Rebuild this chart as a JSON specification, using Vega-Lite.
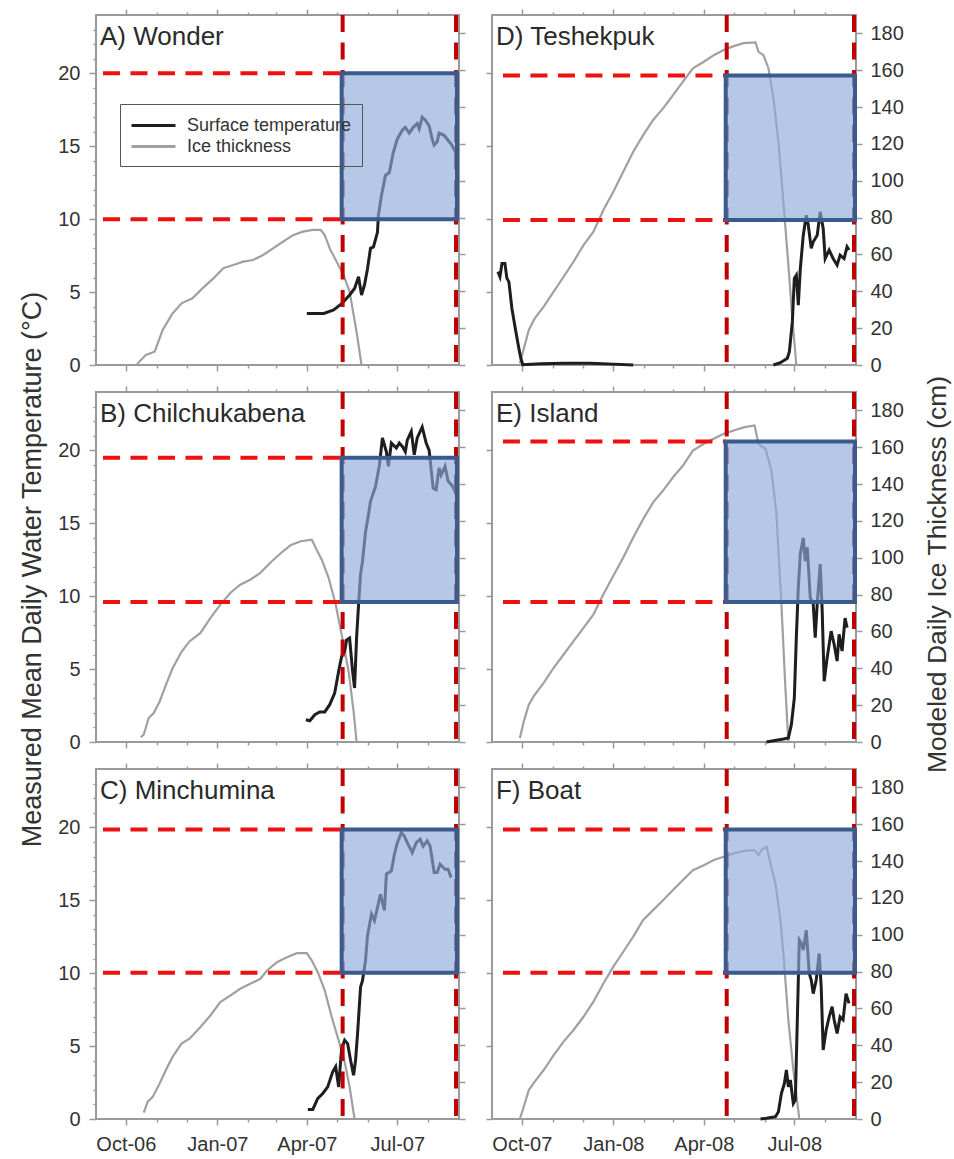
{
 "$schema": "https://vega.github.io/schema/vega-lite/v6.json",
 "padding": {"left": 16, "top": 7, "right": 2, "bottom": 2},
 "background": "white",
 "columns": 2,
 "spacing": {"row": 27, "column": 33},
 "bounds": "flush",
 "resolve": {"scale": {"color": "independent"}, "legend": {"color": "independent"}},
 "datasets": {
  "A_ice": [{"date":"2006-10-12","ice":0},{"date":"2006-10-13","ice":0.9},{"date":"2006-10-21","ice":5.4},{"date":"2006-10-30","ice":7.2},{"date":"2006-11-07","ice":19},{"date":"2006-11-17","ice":28},{"date":"2006-11-26","ice":33.5},{"date":"2006-12-07","ice":36.2},{"date":"2006-12-17","ice":41.6},{"date":"2006-12-28","ice":47},{"date":"2007-01-07","ice":52.5},{"date":"2007-01-17","ice":54.3},{"date":"2007-01-27","ice":56.1},{"date":"2007-02-06","ice":57},{"date":"2007-02-16","ice":59.7},{"date":"2007-02-26","ice":63.3},{"date":"2007-03-08","ice":66.9},{"date":"2007-03-18","ice":70.5},{"date":"2007-03-28","ice":72.4},{"date":"2007-04-07","ice":73.3},{"date":"2007-04-15","ice":73.3},{"date":"2007-04-19","ice":70.5},{"date":"2007-04-24","ice":63.3},{"date":"2007-05-01","ice":56.1},{"date":"2007-05-08","ice":48.8},{"date":"2007-05-14","ice":39.8},{"date":"2007-05-21","ice":18},{"date":"2007-05-26","ice":0}],
  "A_temp": [{"date":"2007-04-01","temp":3.54},{"date":"2007-04-18","temp":3.54},{"date":"2007-04-28","temp":3.77},{"date":"2007-05-06","temp":4.2},{"date":"2007-05-14","temp":4.8},{"date":"2007-05-19","temp":5.25},{"date":"2007-05-23","temp":6.05},{"date":"2007-05-26","temp":4.8},{"date":"2007-05-29","temp":5.5},{"date":"2007-06-01","temp":6.6},{"date":"2007-06-04","temp":8.0},{"date":"2007-06-07","temp":8.1},{"date":"2007-06-11","temp":9.1},{"date":"2007-06-12","temp":10.3},{"date":"2007-06-15","temp":11.6},{"date":"2007-06-19","temp":13.0},{"date":"2007-06-23","temp":13.2},{"date":"2007-06-27","temp":14.6},{"date":"2007-07-01","temp":15.5},{"date":"2007-07-06","temp":16.1},{"date":"2007-07-09","temp":16.3},{"date":"2007-07-13","temp":15.9},{"date":"2007-07-17","temp":16.3},{"date":"2007-07-21","temp":16.55},{"date":"2007-07-23","temp":16.2},{"date":"2007-07-26","temp":17.0},{"date":"2007-07-29","temp":16.8},{"date":"2007-08-02","temp":16.4},{"date":"2007-08-05","temp":15.5},{"date":"2007-08-07","temp":15.07},{"date":"2007-08-10","temp":15.3},{"date":"2007-08-12","temp":15.9},{"date":"2007-08-17","temp":15.75},{"date":"2007-08-20","temp":15.5},{"date":"2007-08-25","temp":15.07},{"date":"2007-08-30","temp":14.4}],
  "B_ice": [{"date":"2006-10-16","ice":2.7},{"date":"2006-10-19","ice":4},{"date":"2006-10-24","ice":13},{"date":"2006-10-29","ice":15.7},{"date":"2006-11-04","ice":22},{"date":"2006-11-11","ice":32},{"date":"2006-11-17","ice":40},{"date":"2006-11-26","ice":49},{"date":"2006-12-04","ice":54.6},{"date":"2006-12-15","ice":59.2},{"date":"2006-12-25","ice":67.3},{"date":"2007-01-04","ice":74.6},{"date":"2007-01-14","ice":80.9},{"date":"2007-01-24","ice":85.4},{"date":"2007-02-03","ice":88.1},{"date":"2007-02-13","ice":91.7},{"date":"2007-02-23","ice":97.2},{"date":"2007-03-06","ice":102.6},{"date":"2007-03-16","ice":107},{"date":"2007-03-26","ice":109},{"date":"2007-04-06","ice":109.8},{"date":"2007-04-10","ice":105.3},{"date":"2007-04-16","ice":99},{"date":"2007-04-23","ice":89},{"date":"2007-04-30","ice":74.6},{"date":"2007-05-06","ice":58.3},{"date":"2007-05-13","ice":38.4},{"date":"2007-05-18","ice":16.7},{"date":"2007-05-21","ice":0}],
  "B_temp": [{"date":"2007-03-31","temp":1.53},{"date":"2007-04-04","temp":1.46},{"date":"2007-04-09","temp":1.87},{"date":"2007-04-14","temp":2.06},{"date":"2007-04-19","temp":2.06},{"date":"2007-04-24","temp":2.56},{"date":"2007-04-29","temp":3.36},{"date":"2007-05-03","temp":4.85},{"date":"2007-05-06","temp":5.87},{"date":"2007-05-09","temp":6.2},{"date":"2007-05-11","temp":7.0},{"date":"2007-05-14","temp":7.13},{"date":"2007-05-17","temp":4.85},{"date":"2007-05-19","temp":3.7},{"date":"2007-05-21","temp":7.13},{"date":"2007-05-23","temp":9.4},{"date":"2007-05-25","temp":11.5},{"date":"2007-05-27","temp":12.4},{"date":"2007-05-30","temp":14.4},{"date":"2007-06-02","temp":15.6},{"date":"2007-06-04","temp":16.5},{"date":"2007-06-09","temp":17.5},{"date":"2007-06-13","temp":19.0},{"date":"2007-06-16","temp":20.85},{"date":"2007-06-20","temp":19.9},{"date":"2007-06-22","temp":18.9},{"date":"2007-06-25","temp":20.5},{"date":"2007-06-30","temp":20.16},{"date":"2007-07-03","temp":20.5},{"date":"2007-07-06","temp":20.27},{"date":"2007-07-09","temp":19.9},{"date":"2007-07-11","temp":20.7},{"date":"2007-07-15","temp":21.3},{"date":"2007-07-18","temp":19.7},{"date":"2007-07-21","temp":20.85},{"date":"2007-07-26","temp":21.6},{"date":"2007-07-30","temp":20.5},{"date":"2007-08-02","temp":20.0},{"date":"2007-08-06","temp":17.4},{"date":"2007-08-09","temp":17.3},{"date":"2007-08-12","temp":18.8},{"date":"2007-08-14","temp":18.3},{"date":"2007-08-18","temp":18.9},{"date":"2007-08-21","temp":17.9},{"date":"2007-08-26","temp":17.5},{"date":"2007-08-31","temp":16.7}],
  "C_ice": [{"date":"2006-10-19","ice":3.4},{"date":"2006-10-23","ice":9.4},{"date":"2006-10-28","ice":12},{"date":"2006-11-04","ice":19.3},{"date":"2006-11-11","ice":27.4},{"date":"2006-11-17","ice":33.7},{"date":"2006-11-26","ice":40.9},{"date":"2006-12-04","ice":43.6},{"date":"2006-12-15","ice":49.9},{"date":"2006-12-25","ice":56.2},{"date":"2007-01-04","ice":63.5},{"date":"2007-01-14","ice":67},{"date":"2007-01-24","ice":70.7},{"date":"2007-02-03","ice":73.4},{"date":"2007-02-13","ice":76},{"date":"2007-02-20","ice":80.6},{"date":"2007-03-02","ice":85.1},{"date":"2007-03-12","ice":87.8},{"date":"2007-03-22","ice":90},{"date":"2007-04-01","ice":90},{"date":"2007-04-06","ice":86},{"date":"2007-04-12","ice":79.7},{"date":"2007-04-19","ice":69.8},{"date":"2007-04-26","ice":55.4},{"date":"2007-05-03","ice":42.7},{"date":"2007-05-09","ice":31},{"date":"2007-05-14","ice":17.5},{"date":"2007-05-19","ice":0}],
  "C_temp": [{"date":"2007-04-02","temp":0.66},{"date":"2007-04-07","temp":0.66},{"date":"2007-04-12","temp":1.41},{"date":"2007-04-17","temp":1.75},{"date":"2007-04-22","temp":2.2},{"date":"2007-04-27","temp":3.23},{"date":"2007-04-30","temp":3.58},{"date":"2007-05-03","temp":2.2},{"date":"2007-05-04","temp":3.12},{"date":"2007-05-06","temp":4.83},{"date":"2007-05-09","temp":5.4},{"date":"2007-05-12","temp":5.17},{"date":"2007-05-15","temp":4.03},{"date":"2007-05-18","temp":3.0},{"date":"2007-05-20","temp":4.03},{"date":"2007-05-22","temp":5.85},{"date":"2007-05-25","temp":9.04},{"date":"2007-05-27","temp":9.5},{"date":"2007-05-30","temp":10.87},{"date":"2007-06-01","temp":12.57},{"date":"2007-06-05","temp":14.05},{"date":"2007-06-08","temp":13.6},{"date":"2007-06-11","temp":14.5},{"date":"2007-06-14","temp":15.4},{"date":"2007-06-18","temp":14.3},{"date":"2007-06-20","temp":16.8},{"date":"2007-06-25","temp":17.0},{"date":"2007-06-28","temp":18.15},{"date":"2007-07-01","temp":18.95},{"date":"2007-07-05","temp":19.64},{"date":"2007-07-08","temp":19.4},{"date":"2007-07-11","temp":18.95},{"date":"2007-07-16","temp":18.27},{"date":"2007-07-20","temp":18.95},{"date":"2007-07-24","temp":19.18},{"date":"2007-07-27","temp":18.7},{"date":"2007-07-31","temp":19.07},{"date":"2007-08-03","temp":18.7},{"date":"2007-08-07","temp":16.9},{"date":"2007-08-10","temp":16.9},{"date":"2007-08-13","temp":17.47},{"date":"2007-08-18","temp":17.13},{"date":"2007-08-21","temp":17.13},{"date":"2007-08-24","temp":16.56}],
  "D_ice": [{"date":"2007-09-29","ice":0.9},{"date":"2007-10-03","ice":9},{"date":"2007-10-08","ice":19},{"date":"2007-10-14","ice":25.3},{"date":"2007-10-23","ice":31.7},{"date":"2007-11-02","ice":39.8},{"date":"2007-11-12","ice":47.9},{"date":"2007-11-22","ice":56.1},{"date":"2007-12-02","ice":65.1},{"date":"2007-12-12","ice":72.4},{"date":"2007-12-22","ice":84.1},{"date":"2008-01-01","ice":94},{"date":"2008-01-11","ice":104.9},{"date":"2008-01-21","ice":115.8},{"date":"2008-01-31","ice":124.8},{"date":"2008-02-10","ice":133},{"date":"2008-02-20","ice":139.3},{"date":"2008-03-01","ice":146.5},{"date":"2008-03-11","ice":153.8},{"date":"2008-03-21","ice":161},{"date":"2008-04-01","ice":164.6},{"date":"2008-04-11","ice":168.2},{"date":"2008-04-21","ice":171},{"date":"2008-05-01","ice":173.1},{"date":"2008-05-11","ice":174.7},{"date":"2008-05-23","ice":175.1},{"date":"2008-05-26","ice":170},{"date":"2008-05-31","ice":168.2},{"date":"2008-06-05","ice":161},{"date":"2008-06-10","ice":144.7},{"date":"2008-06-15","ice":121.2},{"date":"2008-06-20","ice":88.6},{"date":"2008-06-25","ice":54.3},{"date":"2008-06-29","ice":25.3},{"date":"2008-07-03","ice":0}],
  "D_temp": [{"date":"2007-09-07","temp":6.4,"seg":1},{"date":"2007-09-09","temp":6.05,"seg":1},{"date":"2007-09-11","temp":6.96,"seg":1},{"date":"2007-09-14","temp":6.96,"seg":1},{"date":"2007-09-16","temp":5.94,"seg":1},{"date":"2007-09-18","temp":5.7,"seg":1},{"date":"2007-09-21","temp":3.88,"seg":1},{"date":"2007-09-25","temp":2.28,"seg":1},{"date":"2007-09-28","temp":1.14,"seg":1},{"date":"2007-09-30","temp":0.46,"seg":1},{"date":"2007-10-02","temp":0.02,"seg":1},{"date":"2007-10-20","temp":0.08,"seg":1},{"date":"2007-11-12","temp":0.12,"seg":1},{"date":"2007-12-09","temp":0.12,"seg":1},{"date":"2008-01-01","temp":0.06,"seg":1},{"date":"2008-01-21","temp":0.0,"seg":1},{"date":"2008-06-10","temp":0,"seg":2},{"date":"2008-06-17","temp":0.16,"seg":2},{"date":"2008-06-24","temp":0.46,"seg":2},{"date":"2008-06-26","temp":0.91,"seg":2},{"date":"2008-06-29","temp":2.97,"seg":2},{"date":"2008-07-01","temp":5.94,"seg":2},{"date":"2008-07-03","temp":6.16,"seg":2},{"date":"2008-07-05","temp":4.1,"seg":2},{"date":"2008-07-07","temp":6.6,"seg":2},{"date":"2008-07-10","temp":8.9,"seg":2},{"date":"2008-07-13","temp":10.27,"seg":2},{"date":"2008-07-15","temp":9.6,"seg":2},{"date":"2008-07-18","temp":8.0,"seg":2},{"date":"2008-07-20","temp":8.45,"seg":2},{"date":"2008-07-24","temp":8.9,"seg":2},{"date":"2008-07-27","temp":10.5,"seg":2},{"date":"2008-07-30","temp":9.36,"seg":2},{"date":"2008-08-01","temp":7.3,"seg":2},{"date":"2008-08-05","temp":7.88,"seg":2},{"date":"2008-08-09","temp":7.3,"seg":2},{"date":"2008-08-13","temp":6.85,"seg":2},{"date":"2008-08-16","temp":7.53,"seg":2},{"date":"2008-08-20","temp":7.3,"seg":2},{"date":"2008-08-23","temp":8.1,"seg":2},{"date":"2008-08-25","temp":7.88,"seg":2}],
  "E_ice": [{"date":"2007-09-29","ice":2.2},{"date":"2007-10-03","ice":11.2},{"date":"2007-10-08","ice":20.3},{"date":"2007-10-13","ice":24.9},{"date":"2007-10-23","ice":32.1},{"date":"2007-11-02","ice":40.3},{"date":"2007-11-12","ice":47.5},{"date":"2007-11-22","ice":54.8},{"date":"2007-12-02","ice":62},{"date":"2007-12-12","ice":69.3},{"date":"2007-12-22","ice":80.2},{"date":"2008-01-01","ice":90.2},{"date":"2008-01-11","ice":100.2},{"date":"2008-01-21","ice":111},{"date":"2008-01-31","ice":121},{"date":"2008-02-10","ice":130.1},{"date":"2008-02-20","ice":136.5},{"date":"2008-03-01","ice":143.7},{"date":"2008-03-11","ice":150.1},{"date":"2008-03-21","ice":158.2},{"date":"2008-04-01","ice":161.9},{"date":"2008-04-11","ice":164.6},{"date":"2008-04-21","ice":167.3},{"date":"2008-05-01","ice":169.1},{"date":"2008-05-12","ice":170.9},{"date":"2008-05-22","ice":171.8},{"date":"2008-05-26","ice":161.9},{"date":"2008-06-02","ice":159.1},{"date":"2008-06-08","ice":147.3},{"date":"2008-06-13","ice":123.8},{"date":"2008-06-18","ice":74.8},{"date":"2008-06-22","ice":29.4},{"date":"2008-06-25","ice":0}],
  "E_temp": [{"date":"2008-06-03","temp":0.0},{"date":"2008-06-10","temp":0.09},{"date":"2008-06-20","temp":0.2},{"date":"2008-06-25","temp":0.28},{"date":"2008-06-28","temp":1.19},{"date":"2008-07-01","temp":3.03},{"date":"2008-07-03","temp":7.16},{"date":"2008-07-05","temp":10.6},{"date":"2008-07-07","temp":12.9},{"date":"2008-07-10","temp":14.0},{"date":"2008-07-12","temp":12.4},{"date":"2008-07-14","temp":13.35},{"date":"2008-07-17","temp":9.9},{"date":"2008-07-20","temp":9.45},{"date":"2008-07-22","temp":7.16},{"date":"2008-07-24","temp":9.45},{"date":"2008-07-27","temp":12.2},{"date":"2008-07-29","temp":9.0},{"date":"2008-07-31","temp":4.17},{"date":"2008-08-03","temp":5.78},{"date":"2008-08-07","temp":7.6},{"date":"2008-08-10","temp":6.7},{"date":"2008-08-13","temp":5.55},{"date":"2008-08-15","temp":7.38},{"date":"2008-08-18","temp":6.24},{"date":"2008-08-21","temp":8.5},{"date":"2008-08-23","temp":7.84}],
  "F_ice": [{"date":"2007-09-29","ice":0},{"date":"2007-10-03","ice":6.7},{"date":"2007-10-08","ice":15.7},{"date":"2007-10-14","ice":20.3},{"date":"2007-10-23","ice":26.6},{"date":"2007-11-02","ice":34.7},{"date":"2007-11-12","ice":42},{"date":"2007-11-22","ice":48.3},{"date":"2007-12-02","ice":55.5},{"date":"2007-12-12","ice":63.7},{"date":"2007-12-22","ice":73.6},{"date":"2008-01-01","ice":82.7},{"date":"2008-01-11","ice":90.8},{"date":"2008-01-21","ice":99},{"date":"2008-01-31","ice":108},{"date":"2008-02-10","ice":113.4},{"date":"2008-02-20","ice":118.8},{"date":"2008-03-01","ice":124.3},{"date":"2008-03-11","ice":129.7},{"date":"2008-03-21","ice":135.1},{"date":"2008-04-01","ice":137.8},{"date":"2008-04-11","ice":140.6},{"date":"2008-04-21","ice":142.4},{"date":"2008-05-01","ice":144.2},{"date":"2008-05-12","ice":145.6},{"date":"2008-05-22","ice":146},{"date":"2008-05-26","ice":143.3},{"date":"2008-05-29","ice":146},{"date":"2008-06-03","ice":147.8},{"date":"2008-06-07","ice":138.7},{"date":"2008-06-12","ice":127.9},{"date":"2008-06-17","ice":108},{"date":"2008-06-20","ice":89.9},{"date":"2008-06-25","ice":53.7},{"date":"2008-06-30","ice":26.6},{"date":"2008-07-06","ice":0}],
  "F_temp": [{"date":"2008-05-28","temp":0},{"date":"2008-06-03","temp":0.05},{"date":"2008-06-12","temp":0.16},{"date":"2008-06-15","temp":0.5},{"date":"2008-06-18","temp":1.76},{"date":"2008-06-21","temp":2.44},{"date":"2008-06-23","temp":3.36},{"date":"2008-06-25","temp":2.2},{"date":"2008-06-27","temp":2.67},{"date":"2008-06-30","temp":1.07},{"date":"2008-07-02","temp":1.3},{"date":"2008-07-04","temp":6.8},{"date":"2008-07-06","temp":12.27},{"date":"2008-07-08","temp":12.04},{"date":"2008-07-10","temp":11.58},{"date":"2008-07-13","temp":12.95},{"date":"2008-07-16","temp":9.98},{"date":"2008-07-18","temp":9.53},{"date":"2008-07-20","temp":8.6},{"date":"2008-07-23","temp":9.53},{"date":"2008-07-26","temp":11.35},{"date":"2008-07-28","temp":9.07},{"date":"2008-07-30","temp":4.73},{"date":"2008-08-02","temp":6.1},{"date":"2008-08-05","temp":7.0},{"date":"2008-08-08","temp":7.7},{"date":"2008-08-10","temp":6.8},{"date":"2008-08-13","temp":5.87},{"date":"2008-08-16","temp":7.0},{"date":"2008-08-19","temp":6.8},{"date":"2008-08-22","temp":8.6},{"date":"2008-08-25","temp":7.93}]
 },
 "concat": [
  {
   "width": 363, "height": 350,
   "resolve": {"scale": {"y": "independent"}, "axis": {"x": "independent"}},
   "layer": [
    {"data": {"name": "A_ice"}, "mark": {"type": "line", "strokeWidth": 2.2},
     "encoding": {
      "x": {"field": "date", "type": "temporal", "scale": {"type": "utc", "domain": [{"year":2006,"month":9,"date":1,"utc":true},{"year":2007,"month":9,"date":1,"utc":true}]},
            "axis": {"orient": "top", "labels": false, "title": null, "values": [{"year":2006,"month":10,"date":1,"utc":true},{"year":2006,"month":11,"date":1,"utc":true},{"year":2006,"month":12,"date":1,"utc":true},{"year":2007,"month":1,"date":1,"utc":true},{"year":2007,"month":2,"date":1,"utc":true},{"year":2007,"month":3,"date":1,"utc":true},{"year":2007,"month":4,"date":1,"utc":true},{"year":2007,"month":5,"date":1,"utc":true},{"year":2007,"month":6,"date":1,"utc":true},{"year":2007,"month":7,"date":1,"utc":true},{"year":2007,"month":8,"date":1,"utc":true}], "tickSize": {"condition": {"test": "utcmonth(datum.value) % 3 == 0", "value": 6}, "value": 3}}},
      "y": {"field": "ice", "type": "quantitative", "scale": {"domain": [0, 190], "nice": false}, "axis": {"orient": "right", "labels": false, "title": null, "values": [0,20,40,60,80,100,120,140,160,180], "tickSize": 6}},
      "color": {"datum": "Ice thickness", "type": "nominal"}
     }},
    {"data": {"name": "A_temp"}, "mark": {"type": "line", "strokeWidth": 3},
     "encoding": {
      "x": {"field": "date", "type": "temporal", "scale": {"type": "utc", "domain": [{"year":2006,"month":9,"date":1,"utc":true},{"year":2007,"month":9,"date":1,"utc":true}]},
            "axis": {"orient": "bottom", "labels": false, "title": null, "values": [{"year":2006,"month":10,"date":1,"utc":true},{"year":2006,"month":11,"date":1,"utc":true},{"year":2006,"month":12,"date":1,"utc":true},{"year":2007,"month":1,"date":1,"utc":true},{"year":2007,"month":2,"date":1,"utc":true},{"year":2007,"month":3,"date":1,"utc":true},{"year":2007,"month":4,"date":1,"utc":true},{"year":2007,"month":5,"date":1,"utc":true},{"year":2007,"month":6,"date":1,"utc":true},{"year":2007,"month":7,"date":1,"utc":true},{"year":2007,"month":8,"date":1,"utc":true}], "tickSize": {"condition": {"test": "utcmonth(datum.value) % 3 == 0", "value": 6}, "value": 3}}},
      "y": {"field": "temp", "type": "quantitative", "scale": {"domain": [0, 24], "nice": false}, "axis": {"orient": "left", "title": null, "values": [0,1,2,3,4,5,6,7,8,9,10,11,12,13,14,15,16,17,18,19,20,21,22,23], "labelExpr": "datum.value % 5 == 0 ? datum.label : ''", "labelOverlap": false, "labelPadding": 9, "tickSize": {"condition": {"test": "datum.value % 5 == 0", "value": 7}, "value": 3}}},
      "color": {"datum": "Surface temperature", "type": "nominal", "scale": {"domain": ["Surface temperature", "Ice thickness"], "range": ["#1e1e1e", "#a0a0a0"]},
                "legend": {"orient": "none", "legendX": 24, "legendY": 89, "title": null, "symbolType": "M-1,0H3.4", "symbolSize": 400, "symbolStrokeWidth": 3, "labelOffset": 34, "labelFontSize": 18, "labelFont": "Liberation Sans", "labelColor": "#333333", "labelLimit": 300, "padding": 10, "rowPadding": 0, "strokeColor": "#555555"}}
     }},
    {"data": {"values": [{"from": "2006-09-08", "to": "2007-05-06", "level": 20}, {"from": "2006-09-08", "to": "2007-05-06", "level": 10}]},
     "mark": {"type": "rule", "color": "#ee1111", "strokeWidth": 4, "strokeDash": [17, 10.5]},
     "encoding": {"x": {"field": "from", "type": "temporal", "scale": {"type": "utc", "domain": [{"year":2006,"month":9,"date":1,"utc":true},{"year":2007,"month":9,"date":1,"utc":true}]}, "axis": null}, "x2": {"field": "to"}, "y": {"field": "level", "type": "quantitative", "scale": {"domain": [0, 24], "nice": false}, "axis": null}}},
    {"data": {"values": [{"at": "2007-05-07"}, {"at": "2007-08-29"}]},
     "mark": {"type": "rule", "color": "#c00000", "strokeWidth": 4, "strokeDash": [17, 10.5]},
     "encoding": {"x": {"field": "at", "type": "temporal", "scale": {"type": "utc", "domain": [{"year":2006,"month":9,"date":1,"utc":true},{"year":2007,"month":9,"date":1,"utc":true}]}, "axis": null}}},
    {"data": {"values": [{"start": "2007-05-06", "end": "2007-08-30", "lo": 10, "hi": 20}]},
     "mark": {"type": "rect", "fill": "#8eaadb", "fillOpacity": 0.65, "stroke": "#3b5b8c", "strokeWidth": 4},
     "encoding": {"x": {"field": "start", "type": "temporal", "scale": {"type": "utc", "domain": [{"year":2006,"month":9,"date":1,"utc":true},{"year":2007,"month":9,"date":1,"utc":true}]}, "axis": null}, "x2": {"field": "end"}, "y": {"field": "lo", "type": "quantitative", "scale": {"domain": [0, 24], "nice": false}, "axis": null}, "y2": {"field": "hi"}}},
    {"data": {"values": [{"label": "A) Wonder"}]},
     "mark": {"type": "text", "align": "left", "baseline": "alphabetic", "fontSize": 26, "font": "Liberation Sans", "color": "#2a2a2a"},
     "encoding": {"x": {"datum": {"year":2006,"month":9,"date":5,"utc":true}, "type": "temporal", "scale": {"type": "utc", "domain": [{"year":2006,"month":9,"date":1,"utc":true},{"year":2007,"month":9,"date":1,"utc":true}]}, "axis": null}, "y": {"datum": 21.94, "type": "quantitative", "scale": {"domain": [0, 24], "nice": false}, "axis": null}, "text": {"field": "label"}}}
   ]
  },
  {
   "width": 364, "height": 350,
   "resolve": {"scale": {"y": "independent"}, "axis": {"x": "independent"}},
   "layer": [
    {"data": {"name": "D_ice"}, "mark": {"type": "line", "strokeWidth": 2.2, "color": "#a0a0a0"},
     "encoding": {
      "x": {"field": "date", "type": "temporal", "scale": {"type": "utc", "domain": [{"year":2007,"month":9,"date":1,"utc":true},{"year":2008,"month":9,"date":1,"utc":true}]},
            "axis": {"orient": "top", "labels": false, "title": null, "values": [{"year":2007,"month":10,"date":1,"utc":true},{"year":2007,"month":11,"date":1,"utc":true},{"year":2007,"month":12,"date":1,"utc":true},{"year":2008,"month":1,"date":1,"utc":true},{"year":2008,"month":2,"date":1,"utc":true},{"year":2008,"month":3,"date":1,"utc":true},{"year":2008,"month":4,"date":1,"utc":true},{"year":2008,"month":5,"date":1,"utc":true},{"year":2008,"month":6,"date":1,"utc":true},{"year":2008,"month":7,"date":1,"utc":true},{"year":2008,"month":8,"date":1,"utc":true}], "tickSize": {"condition": {"test": "utcmonth(datum.value) % 3 == 0", "value": 6}, "value": 3}}},
      "y": {"field": "ice", "type": "quantitative", "scale": {"domain": [0, 190], "nice": false}, "axis": {"orient": "right", "labels": true, "title": null, "values": [0,20,40,60,80,100,120,140,160,180], "tickSize": 6, "labelPadding": 8}}
     }},
    {"data": {"name": "D_temp"}, "mark": {"type": "line", "strokeWidth": 3, "color": "#1e1e1e"},
     "encoding": {
      "x": {"field": "date", "type": "temporal", "scale": {"type": "utc", "domain": [{"year":2007,"month":9,"date":1,"utc":true},{"year":2008,"month":9,"date":1,"utc":true}]},
            "axis": {"orient": "bottom", "labels": false, "title": null, "values": [{"year":2007,"month":10,"date":1,"utc":true},{"year":2007,"month":11,"date":1,"utc":true},{"year":2007,"month":12,"date":1,"utc":true},{"year":2008,"month":1,"date":1,"utc":true},{"year":2008,"month":2,"date":1,"utc":true},{"year":2008,"month":3,"date":1,"utc":true},{"year":2008,"month":4,"date":1,"utc":true},{"year":2008,"month":5,"date":1,"utc":true},{"year":2008,"month":6,"date":1,"utc":true},{"year":2008,"month":7,"date":1,"utc":true},{"year":2008,"month":8,"date":1,"utc":true}], "tickSize": {"condition": {"test": "utcmonth(datum.value) % 3 == 0", "value": 6}, "value": 3}}},
      "y": {"field": "temp", "type": "quantitative", "scale": {"domain": [0, 24], "nice": false}, "axis": {"orient": "left", "labels": false, "title": null, "values": [0,5,10,15,20], "tickSize": 6}},
      "detail": {"field": "seg", "type": "nominal"}
     }},
    {"data": {"values": [{"from": "2007-09-12", "to": "2008-04-23", "level": 19.85}, {"from": "2007-09-12", "to": "2008-04-23", "level": 9.95}]},
     "mark": {"type": "rule", "color": "#ee1111", "strokeWidth": 4, "strokeDash": [17, 10.5]},
     "encoding": {"x": {"field": "from", "type": "temporal", "scale": {"type": "utc", "domain": [{"year":2007,"month":9,"date":1,"utc":true},{"year":2008,"month":9,"date":1,"utc":true}]}, "axis": null}, "x2": {"field": "to"}, "y": {"field": "level", "type": "quantitative", "scale": {"domain": [0, 24], "nice": false}, "axis": null}}},
    {"data": {"values": [{"at": "2008-04-24"}, {"at": "2008-08-30"}]},
     "mark": {"type": "rule", "color": "#c00000", "strokeWidth": 4, "strokeDash": [17, 10.5]},
     "encoding": {"x": {"field": "at", "type": "temporal", "scale": {"type": "utc", "domain": [{"year":2007,"month":9,"date":1,"utc":true},{"year":2008,"month":9,"date":1,"utc":true}]}, "axis": null}}},
    {"data": {"values": [{"start": "2008-04-23", "end": "2008-08-31", "lo": 9.95, "hi": 19.85}]},
     "mark": {"type": "rect", "fill": "#8eaadb", "fillOpacity": 0.65, "stroke": "#3b5b8c", "strokeWidth": 4},
     "encoding": {"x": {"field": "start", "type": "temporal", "scale": {"type": "utc", "domain": [{"year":2007,"month":9,"date":1,"utc":true},{"year":2008,"month":9,"date":1,"utc":true}]}, "axis": null}, "x2": {"field": "end"}, "y": {"field": "lo", "type": "quantitative", "scale": {"domain": [0, 24], "nice": false}, "axis": null}, "y2": {"field": "hi"}}},
    {"data": {"values": [{"label": "D) Teshekpuk"}]},
     "mark": {"type": "text", "align": "left", "baseline": "alphabetic", "fontSize": 26, "font": "Liberation Sans", "color": "#2a2a2a"},
     "encoding": {"x": {"datum": {"year":2007,"month":9,"date":5,"utc":true}, "type": "temporal", "scale": {"type": "utc", "domain": [{"year":2007,"month":9,"date":1,"utc":true},{"year":2008,"month":9,"date":1,"utc":true}]}, "axis": null}, "y": {"datum": 21.94, "type": "quantitative", "scale": {"domain": [0, 24], "nice": false}, "axis": null}, "text": {"field": "label"}}}
   ]
  },
  {
   "width": 363, "height": 350,
   "resolve": {"scale": {"y": "independent"}, "axis": {"x": "independent"}},
   "layer": [
    {"data": {"name": "B_ice"}, "mark": {"type": "line", "strokeWidth": 2.2, "color": "#a0a0a0"},
     "encoding": {
      "x": {"field": "date", "type": "temporal", "scale": {"type": "utc", "domain": [{"year":2006,"month":9,"date":1,"utc":true},{"year":2007,"month":9,"date":1,"utc":true}]},
            "axis": {"orient": "top", "labels": false, "title": null, "values": [{"year":2006,"month":10,"date":1,"utc":true},{"year":2006,"month":11,"date":1,"utc":true},{"year":2006,"month":12,"date":1,"utc":true},{"year":2007,"month":1,"date":1,"utc":true},{"year":2007,"month":2,"date":1,"utc":true},{"year":2007,"month":3,"date":1,"utc":true},{"year":2007,"month":4,"date":1,"utc":true},{"year":2007,"month":5,"date":1,"utc":true},{"year":2007,"month":6,"date":1,"utc":true},{"year":2007,"month":7,"date":1,"utc":true},{"year":2007,"month":8,"date":1,"utc":true}], "tickSize": {"condition": {"test": "utcmonth(datum.value) % 3 == 0", "value": 6}, "value": 3}}},
      "y": {"field": "ice", "type": "quantitative", "scale": {"domain": [0, 190], "nice": false}, "axis": {"orient": "right", "labels": false, "title": null, "values": [0,20,40,60,80,100,120,140,160,180], "tickSize": 6}}
     }},
    {"data": {"name": "B_temp"}, "mark": {"type": "line", "strokeWidth": 3, "color": "#1e1e1e"},
     "encoding": {
      "x": {"field": "date", "type": "temporal", "scale": {"type": "utc", "domain": [{"year":2006,"month":9,"date":1,"utc":true},{"year":2007,"month":9,"date":1,"utc":true}]},
            "axis": {"orient": "bottom", "labels": false, "title": null, "values": [{"year":2006,"month":10,"date":1,"utc":true},{"year":2006,"month":11,"date":1,"utc":true},{"year":2006,"month":12,"date":1,"utc":true},{"year":2007,"month":1,"date":1,"utc":true},{"year":2007,"month":2,"date":1,"utc":true},{"year":2007,"month":3,"date":1,"utc":true},{"year":2007,"month":4,"date":1,"utc":true},{"year":2007,"month":5,"date":1,"utc":true},{"year":2007,"month":6,"date":1,"utc":true},{"year":2007,"month":7,"date":1,"utc":true},{"year":2007,"month":8,"date":1,"utc":true}], "tickSize": {"condition": {"test": "utcmonth(datum.value) % 3 == 0", "value": 6}, "value": 3}}},
      "y": {"field": "temp", "type": "quantitative", "scale": {"domain": [0, 24], "nice": false}, "axis": {"orient": "left", "title": "Measured Mean Daily Water Temperature (°C)", "titleAngle": 270, "titleX": -64, "titleY": 177, "titleBaseline": "middle", "titleAlign": "center", "titleFontSize": 27, "values": [0,1,2,3,4,5,6,7,8,9,10,11,12,13,14,15,16,17,18,19,20,21,22,23], "labelExpr": "datum.value % 5 == 0 ? datum.label : ''", "labelOverlap": false, "labelPadding": 9, "tickSize": {"condition": {"test": "datum.value % 5 == 0", "value": 7}, "value": 3}}}
     }},
    {"data": {"values": [{"from": "2006-09-08", "to": "2007-05-06", "level": 19.5}, {"from": "2006-09-08", "to": "2007-05-06", "level": 9.6}]},
     "mark": {"type": "rule", "color": "#ee1111", "strokeWidth": 4, "strokeDash": [17, 10.5]},
     "encoding": {"x": {"field": "from", "type": "temporal", "scale": {"type": "utc", "domain": [{"year":2006,"month":9,"date":1,"utc":true},{"year":2007,"month":9,"date":1,"utc":true}]}, "axis": null}, "x2": {"field": "to"}, "y": {"field": "level", "type": "quantitative", "scale": {"domain": [0, 24], "nice": false}, "axis": null}}},
    {"data": {"values": [{"at": "2007-05-07"}, {"at": "2007-08-29"}]},
     "mark": {"type": "rule", "color": "#c00000", "strokeWidth": 4, "strokeDash": [17, 10.5]},
     "encoding": {"x": {"field": "at", "type": "temporal", "scale": {"type": "utc", "domain": [{"year":2006,"month":9,"date":1,"utc":true},{"year":2007,"month":9,"date":1,"utc":true}]}, "axis": null}}},
    {"data": {"values": [{"start": "2007-05-06", "end": "2007-08-30", "lo": 9.6, "hi": 19.5}]},
     "mark": {"type": "rect", "fill": "#8eaadb", "fillOpacity": 0.65, "stroke": "#3b5b8c", "strokeWidth": 4},
     "encoding": {"x": {"field": "start", "type": "temporal", "scale": {"type": "utc", "domain": [{"year":2006,"month":9,"date":1,"utc":true},{"year":2007,"month":9,"date":1,"utc":true}]}, "axis": null}, "x2": {"field": "end"}, "y": {"field": "lo", "type": "quantitative", "scale": {"domain": [0, 24], "nice": false}, "axis": null}, "y2": {"field": "hi"}}},
    {"data": {"values": [{"label": "B) Chilchukabena"}]},
     "mark": {"type": "text", "align": "left", "baseline": "alphabetic", "fontSize": 26, "font": "Liberation Sans", "color": "#2a2a2a"},
     "encoding": {"x": {"datum": {"year":2006,"month":9,"date":5,"utc":true}, "type": "temporal", "scale": {"type": "utc", "domain": [{"year":2006,"month":9,"date":1,"utc":true},{"year":2007,"month":9,"date":1,"utc":true}]}, "axis": null}, "y": {"datum": 21.94, "type": "quantitative", "scale": {"domain": [0, 24], "nice": false}, "axis": null}, "text": {"field": "label"}}}
   ]
  },
  {
   "width": 364, "height": 350,
   "resolve": {"scale": {"y": "independent"}, "axis": {"x": "independent"}},
   "layer": [
    {"data": {"name": "E_ice"}, "mark": {"type": "line", "strokeWidth": 2.2, "color": "#a0a0a0"},
     "encoding": {
      "x": {"field": "date", "type": "temporal", "scale": {"type": "utc", "domain": [{"year":2007,"month":9,"date":1,"utc":true},{"year":2008,"month":9,"date":1,"utc":true}]},
            "axis": {"orient": "top", "labels": false, "title": null, "values": [{"year":2007,"month":10,"date":1,"utc":true},{"year":2007,"month":11,"date":1,"utc":true},{"year":2007,"month":12,"date":1,"utc":true},{"year":2008,"month":1,"date":1,"utc":true},{"year":2008,"month":2,"date":1,"utc":true},{"year":2008,"month":3,"date":1,"utc":true},{"year":2008,"month":4,"date":1,"utc":true},{"year":2008,"month":5,"date":1,"utc":true},{"year":2008,"month":6,"date":1,"utc":true},{"year":2008,"month":7,"date":1,"utc":true},{"year":2008,"month":8,"date":1,"utc":true}], "tickSize": {"condition": {"test": "utcmonth(datum.value) % 3 == 0", "value": 6}, "value": 3}}},
      "y": {"field": "ice", "type": "quantitative", "scale": {"domain": [0, 190], "nice": false}, "axis": {"orient": "right", "labels": true, "title": "Modeled Daily Ice Thickness (cm)", "titleAngle": 270, "titleX": 81, "titleY": 182, "titleBaseline": "middle", "titleAlign": "center", "titleFontSize": 26.5, "values": [0,20,40,60,80,100,120,140,160,180], "tickSize": 6, "labelPadding": 8}}
     }},
    {"data": {"name": "E_temp"}, "mark": {"type": "line", "strokeWidth": 3, "color": "#1e1e1e"},
     "encoding": {
      "x": {"field": "date", "type": "temporal", "scale": {"type": "utc", "domain": [{"year":2007,"month":9,"date":1,"utc":true},{"year":2008,"month":9,"date":1,"utc":true}]},
            "axis": {"orient": "bottom", "labels": false, "title": null, "values": [{"year":2007,"month":10,"date":1,"utc":true},{"year":2007,"month":11,"date":1,"utc":true},{"year":2007,"month":12,"date":1,"utc":true},{"year":2008,"month":1,"date":1,"utc":true},{"year":2008,"month":2,"date":1,"utc":true},{"year":2008,"month":3,"date":1,"utc":true},{"year":2008,"month":4,"date":1,"utc":true},{"year":2008,"month":5,"date":1,"utc":true},{"year":2008,"month":6,"date":1,"utc":true},{"year":2008,"month":7,"date":1,"utc":true},{"year":2008,"month":8,"date":1,"utc":true}], "tickSize": {"condition": {"test": "utcmonth(datum.value) % 3 == 0", "value": 6}, "value": 3}}},
      "y": {"field": "temp", "type": "quantitative", "scale": {"domain": [0, 24], "nice": false}, "axis": {"orient": "left", "labels": false, "title": null, "values": [0,5,10,15,20], "tickSize": 6}}
     }},
    {"data": {"values": [{"from": "2007-09-12", "to": "2008-04-23", "level": 20.6}, {"from": "2007-09-12", "to": "2008-04-23", "level": 9.6}]},
     "mark": {"type": "rule", "color": "#ee1111", "strokeWidth": 4, "strokeDash": [17, 10.5]},
     "encoding": {"x": {"field": "from", "type": "temporal", "scale": {"type": "utc", "domain": [{"year":2007,"month":9,"date":1,"utc":true},{"year":2008,"month":9,"date":1,"utc":true}]}, "axis": null}, "x2": {"field": "to"}, "y": {"field": "level", "type": "quantitative", "scale": {"domain": [0, 24], "nice": false}, "axis": null}}},
    {"data": {"values": [{"at": "2008-04-24"}, {"at": "2008-08-30"}]},
     "mark": {"type": "rule", "color": "#c00000", "strokeWidth": 4, "strokeDash": [17, 10.5]},
     "encoding": {"x": {"field": "at", "type": "temporal", "scale": {"type": "utc", "domain": [{"year":2007,"month":9,"date":1,"utc":true},{"year":2008,"month":9,"date":1,"utc":true}]}, "axis": null}}},
    {"data": {"values": [{"start": "2008-04-23", "end": "2008-08-31", "lo": 9.6, "hi": 20.6}]},
     "mark": {"type": "rect", "fill": "#8eaadb", "fillOpacity": 0.65, "stroke": "#3b5b8c", "strokeWidth": 4},
     "encoding": {"x": {"field": "start", "type": "temporal", "scale": {"type": "utc", "domain": [{"year":2007,"month":9,"date":1,"utc":true},{"year":2008,"month":9,"date":1,"utc":true}]}, "axis": null}, "x2": {"field": "end"}, "y": {"field": "lo", "type": "quantitative", "scale": {"domain": [0, 24], "nice": false}, "axis": null}, "y2": {"field": "hi"}}},
    {"data": {"values": [{"label": "E) Island"}]},
     "mark": {"type": "text", "align": "left", "baseline": "alphabetic", "fontSize": 26, "font": "Liberation Sans", "color": "#2a2a2a"},
     "encoding": {"x": {"datum": {"year":2007,"month":9,"date":5,"utc":true}, "type": "temporal", "scale": {"type": "utc", "domain": [{"year":2007,"month":9,"date":1,"utc":true},{"year":2008,"month":9,"date":1,"utc":true}]}, "axis": null}, "y": {"datum": 21.94, "type": "quantitative", "scale": {"domain": [0, 24], "nice": false}, "axis": null}, "text": {"field": "label"}}}
   ]
  },
  {
   "width": 363, "height": 350,
   "resolve": {"scale": {"y": "independent"}, "axis": {"x": "independent"}},
   "layer": [
    {"data": {"name": "C_ice"}, "mark": {"type": "line", "strokeWidth": 2.2, "color": "#a0a0a0"},
     "encoding": {
      "x": {"field": "date", "type": "temporal", "scale": {"type": "utc", "domain": [{"year":2006,"month":9,"date":1,"utc":true},{"year":2007,"month":9,"date":1,"utc":true}]},
            "axis": {"orient": "top", "labels": false, "title": null, "values": [{"year":2006,"month":10,"date":1,"utc":true},{"year":2006,"month":11,"date":1,"utc":true},{"year":2006,"month":12,"date":1,"utc":true},{"year":2007,"month":1,"date":1,"utc":true},{"year":2007,"month":2,"date":1,"utc":true},{"year":2007,"month":3,"date":1,"utc":true},{"year":2007,"month":4,"date":1,"utc":true},{"year":2007,"month":5,"date":1,"utc":true},{"year":2007,"month":6,"date":1,"utc":true},{"year":2007,"month":7,"date":1,"utc":true},{"year":2007,"month":8,"date":1,"utc":true}], "tickSize": {"condition": {"test": "utcmonth(datum.value) % 3 == 0", "value": 6}, "value": 3}}},
      "y": {"field": "ice", "type": "quantitative", "scale": {"domain": [0, 190], "nice": false}, "axis": {"orient": "right", "labels": false, "title": null, "values": [0,20,40,60,80,100,120,140,160,180], "tickSize": 6}}
     }},
    {"data": {"name": "C_temp"}, "mark": {"type": "line", "strokeWidth": 3, "color": "#1e1e1e"},
     "encoding": {
      "x": {"field": "date", "type": "temporal", "scale": {"type": "utc", "domain": [{"year":2006,"month":9,"date":1,"utc":true},{"year":2007,"month":9,"date":1,"utc":true}]},
            "axis": {"orient": "bottom", "labels": true, "title": null, "values": [{"year":2006,"month":10,"date":1,"utc":true},{"year":2006,"month":11,"date":1,"utc":true},{"year":2006,"month":12,"date":1,"utc":true},{"year":2007,"month":1,"date":1,"utc":true},{"year":2007,"month":2,"date":1,"utc":true},{"year":2007,"month":3,"date":1,"utc":true},{"year":2007,"month":4,"date":1,"utc":true},{"year":2007,"month":5,"date":1,"utc":true},{"year":2007,"month":6,"date":1,"utc":true},{"year":2007,"month":7,"date":1,"utc":true},{"year":2007,"month":8,"date":1,"utc":true}], "labelExpr": "utcmonth(datum.value) % 3 == 0 ? utcFormat(datum.value, '%b-%y') : ''", "labelOverlap": false, "labelFlush": false, "labelPadding": 9, "tickSize": {"condition": {"test": "utcmonth(datum.value) % 3 == 0", "value": 6}, "value": 3}}},
      "y": {"field": "temp", "type": "quantitative", "scale": {"domain": [0, 24], "nice": false}, "axis": {"orient": "left", "title": null, "values": [0,1,2,3,4,5,6,7,8,9,10,11,12,13,14,15,16,17,18,19,20,21,22,23], "labelExpr": "datum.value % 5 == 0 ? datum.label : ''", "labelOverlap": false, "labelPadding": 9, "tickSize": {"condition": {"test": "datum.value % 5 == 0", "value": 7}, "value": 3}}}
     }},
    {"data": {"values": [{"from": "2006-09-08", "to": "2007-05-06", "level": 19.85}, {"from": "2006-09-08", "to": "2007-05-06", "level": 10.03}]},
     "mark": {"type": "rule", "color": "#ee1111", "strokeWidth": 4, "strokeDash": [17, 10.5]},
     "encoding": {"x": {"field": "from", "type": "temporal", "scale": {"type": "utc", "domain": [{"year":2006,"month":9,"date":1,"utc":true},{"year":2007,"month":9,"date":1,"utc":true}]}, "axis": null}, "x2": {"field": "to"}, "y": {"field": "level", "type": "quantitative", "scale": {"domain": [0, 24], "nice": false}, "axis": null}}},
    {"data": {"values": [{"at": "2007-05-07"}, {"at": "2007-08-29"}]},
     "mark": {"type": "rule", "color": "#c00000", "strokeWidth": 4, "strokeDash": [17, 10.5]},
     "encoding": {"x": {"field": "at", "type": "temporal", "scale": {"type": "utc", "domain": [{"year":2006,"month":9,"date":1,"utc":true},{"year":2007,"month":9,"date":1,"utc":true}]}, "axis": null}}},
    {"data": {"values": [{"start": "2007-05-06", "end": "2007-08-30", "lo": 10.03, "hi": 19.85}]},
     "mark": {"type": "rect", "fill": "#8eaadb", "fillOpacity": 0.65, "stroke": "#3b5b8c", "strokeWidth": 4},
     "encoding": {"x": {"field": "start", "type": "temporal", "scale": {"type": "utc", "domain": [{"year":2006,"month":9,"date":1,"utc":true},{"year":2007,"month":9,"date":1,"utc":true}]}, "axis": null}, "x2": {"field": "end"}, "y": {"field": "lo", "type": "quantitative", "scale": {"domain": [0, 24], "nice": false}, "axis": null}, "y2": {"field": "hi"}}},
    {"data": {"values": [{"label": "C) Minchumina"}]},
     "mark": {"type": "text", "align": "left", "baseline": "alphabetic", "fontSize": 26, "font": "Liberation Sans", "color": "#2a2a2a"},
     "encoding": {"x": {"datum": {"year":2006,"month":9,"date":5,"utc":true}, "type": "temporal", "scale": {"type": "utc", "domain": [{"year":2006,"month":9,"date":1,"utc":true},{"year":2007,"month":9,"date":1,"utc":true}]}, "axis": null}, "y": {"datum": 21.94, "type": "quantitative", "scale": {"domain": [0, 24], "nice": false}, "axis": null}, "text": {"field": "label"}}}
   ]
  },
  {
   "width": 364, "height": 350,
   "resolve": {"scale": {"y": "independent"}, "axis": {"x": "independent"}},
   "layer": [
    {"data": {"name": "F_ice"}, "mark": {"type": "line", "strokeWidth": 2.2, "color": "#a0a0a0"},
     "encoding": {
      "x": {"field": "date", "type": "temporal", "scale": {"type": "utc", "domain": [{"year":2007,"month":9,"date":1,"utc":true},{"year":2008,"month":9,"date":1,"utc":true}]},
            "axis": {"orient": "top", "labels": false, "title": null, "values": [{"year":2007,"month":10,"date":1,"utc":true},{"year":2007,"month":11,"date":1,"utc":true},{"year":2007,"month":12,"date":1,"utc":true},{"year":2008,"month":1,"date":1,"utc":true},{"year":2008,"month":2,"date":1,"utc":true},{"year":2008,"month":3,"date":1,"utc":true},{"year":2008,"month":4,"date":1,"utc":true},{"year":2008,"month":5,"date":1,"utc":true},{"year":2008,"month":6,"date":1,"utc":true},{"year":2008,"month":7,"date":1,"utc":true},{"year":2008,"month":8,"date":1,"utc":true}], "tickSize": {"condition": {"test": "utcmonth(datum.value) % 3 == 0", "value": 6}, "value": 3}}},
      "y": {"field": "ice", "type": "quantitative", "scale": {"domain": [0, 190], "nice": false}, "axis": {"orient": "right", "labels": true, "title": null, "values": [0,20,40,60,80,100,120,140,160,180], "tickSize": 6, "labelPadding": 8}}
     }},
    {"data": {"name": "F_temp"}, "mark": {"type": "line", "strokeWidth": 3, "color": "#1e1e1e"},
     "encoding": {
      "x": {"field": "date", "type": "temporal", "scale": {"type": "utc", "domain": [{"year":2007,"month":9,"date":1,"utc":true},{"year":2008,"month":9,"date":1,"utc":true}]},
            "axis": {"orient": "bottom", "labels": true, "title": null, "values": [{"year":2007,"month":10,"date":1,"utc":true},{"year":2007,"month":11,"date":1,"utc":true},{"year":2007,"month":12,"date":1,"utc":true},{"year":2008,"month":1,"date":1,"utc":true},{"year":2008,"month":2,"date":1,"utc":true},{"year":2008,"month":3,"date":1,"utc":true},{"year":2008,"month":4,"date":1,"utc":true},{"year":2008,"month":5,"date":1,"utc":true},{"year":2008,"month":6,"date":1,"utc":true},{"year":2008,"month":7,"date":1,"utc":true},{"year":2008,"month":8,"date":1,"utc":true}], "labelExpr": "utcmonth(datum.value) % 3 == 0 ? utcFormat(datum.value, '%b-%y') : ''", "labelOverlap": false, "labelFlush": false, "labelPadding": 9, "tickSize": {"condition": {"test": "utcmonth(datum.value) % 3 == 0", "value": 6}, "value": 3}}},
      "y": {"field": "temp", "type": "quantitative", "scale": {"domain": [0, 24], "nice": false}, "axis": {"orient": "left", "labels": false, "title": null, "values": [0,5,10,15,20], "tickSize": 6}}
     }},
    {"data": {"values": [{"from": "2007-09-12", "to": "2008-04-23", "level": 19.85}, {"from": "2007-09-12", "to": "2008-04-23", "level": 10.03}]},
     "mark": {"type": "rule", "color": "#ee1111", "strokeWidth": 4, "strokeDash": [17, 10.5]},
     "encoding": {"x": {"field": "from", "type": "temporal", "scale": {"type": "utc", "domain": [{"year":2007,"month":9,"date":1,"utc":true},{"year":2008,"month":9,"date":1,"utc":true}]}, "axis": null}, "x2": {"field": "to"}, "y": {"field": "level", "type": "quantitative", "scale": {"domain": [0, 24], "nice": false}, "axis": null}}},
    {"data": {"values": [{"at": "2008-04-24"}, {"at": "2008-08-30"}]},
     "mark": {"type": "rule", "color": "#c00000", "strokeWidth": 4, "strokeDash": [17, 10.5]},
     "encoding": {"x": {"field": "at", "type": "temporal", "scale": {"type": "utc", "domain": [{"year":2007,"month":9,"date":1,"utc":true},{"year":2008,"month":9,"date":1,"utc":true}]}, "axis": null}}},
    {"data": {"values": [{"start": "2008-04-23", "end": "2008-08-31", "lo": 10.03, "hi": 19.85}]},
     "mark": {"type": "rect", "fill": "#8eaadb", "fillOpacity": 0.65, "stroke": "#3b5b8c", "strokeWidth": 4},
     "encoding": {"x": {"field": "start", "type": "temporal", "scale": {"type": "utc", "domain": [{"year":2007,"month":9,"date":1,"utc":true},{"year":2008,"month":9,"date":1,"utc":true}]}, "axis": null}, "x2": {"field": "end"}, "y": {"field": "lo", "type": "quantitative", "scale": {"domain": [0, 24], "nice": false}, "axis": null}, "y2": {"field": "hi"}}},
    {"data": {"values": [{"label": "F) Boat"}]},
     "mark": {"type": "text", "align": "left", "baseline": "alphabetic", "fontSize": 26, "font": "Liberation Sans", "color": "#2a2a2a"},
     "encoding": {"x": {"datum": {"year":2007,"month":9,"date":5,"utc":true}, "type": "temporal", "scale": {"type": "utc", "domain": [{"year":2007,"month":9,"date":1,"utc":true},{"year":2008,"month":9,"date":1,"utc":true}]}, "axis": null}, "y": {"datum": 21.94, "type": "quantitative", "scale": {"domain": [0, 24], "nice": false}, "axis": null}, "text": {"field": "label"}}}
   ]
  }
 ],
 "config": {
  "font": "Liberation Sans",
  "view": {"stroke": "#9a9a9a", "strokeWidth": 2},
  "axis": {"domain": false, "grid": false, "tickColor": "#999999", "tickWidth": 1.5, "labelFont": "Liberation Sans", "labelFontSize": 20, "labelColor": "#333333", "titleFont": "Liberation Sans", "titleFontWeight": "normal", "titleColor": "#333333"}
 }
}
